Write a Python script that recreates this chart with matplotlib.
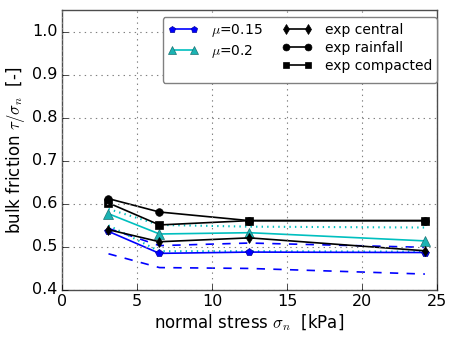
import matplotlib
matplotlib.use("Agg")
import matplotlib.pyplot as plt
from matplotlib.lines import Line2D

plt.style.use('classic')

# data
stress = [3.1, 6.5, 12.5, 24.2]
mu015 = [0.536, 0.485, 0.488, 0.487]
mu015_hi = [0.543, 0.503, 0.509, 0.499]
mu015_lo = [0.484, 0.452, 0.450, 0.437]
mu02 = [0.577, 0.530, 0.533, 0.514]
mu02_hi = [0.588, 0.551, 0.547, 0.545]
mu02_lo = [0.550, 0.490, 0.490, 0.489]
exp_central = [0.540, 0.512, 0.521, 0.491]
exp_rainfall = [0.612, 0.581, 0.561, 0.561]
exp_compacted = [0.602, 0.551, 0.561, 0.561]

fig = plt.figure(figsize=(4.57, 3.44), dpi=100, facecolor='white')
ax = fig.add_axes([0.1357, 0.157, 0.8203, 0.814])

cyan = (0.0, 0.75, 0.75)
ax.plot(stress, mu015_hi, '--', color='b', lw=1.2)
ax.plot(stress, mu015_lo, '--', color='b', lw=1.2)
ax.plot(stress, mu02_hi, ':', color=cyan, lw=1.5)
ax.plot(stress, mu02_lo, ':', color=cyan, lw=1.5)
l1, = ax.plot(stress, mu015, '-p', color='b', mec=(0, 0, 0.6), ms=5.5, lw=1.2)
l2, = ax.plot(stress, mu02, '-^', color=cyan, mfc=(0.1, 0.7, 0.7), mec=(0.1, 0.45, 0.45), ms=6.5, lw=1.2)
l3, = ax.plot(stress, exp_central, '-d', color='k', ms=5.5, lw=1.2)
l4, = ax.plot(stress, exp_rainfall, '-o', color='k', ms=5.5, lw=1.2)
l5, = ax.plot(stress, exp_compacted, '-s', color='k', ms=5.5, lw=1.2)

ax.set_xlim(0, 25)
ax.set_ylim(0.4, 1.05)
ax.set_xticks([0, 5, 10, 15, 20, 25])
ax.set_yticks([0.4, 0.5, 0.6, 0.7, 0.8, 0.9, 1.0])
ax.grid(True, color='0.5', linestyle=':', lw=0.8)
ax.tick_params(labelsize=11.5, direction='in', top=False, right=False, length=4, pad=3)
for s in ax.spines.values():
    s.set_color('0.3')
ax.set_xlabel(r'normal stress $\sigma_n$  [kPa]', fontsize=12, labelpad=2)
ax.set_ylabel(r'bulk friction $\tau/\sigma_n$  [-]', fontsize=12, labelpad=4)

blank = Line2D([], [], linestyle='none', marker='none')
leg = ax.legend([l1, l2, blank, l3, l4, l5],
                [r'$\mu$=0.15', r'$\mu$=0.2', '', 'exp central', 'exp rainfall', 'exp compacted'],
                ncol=2, loc='upper right', numpoints=2, fontsize=10, fancybox=True,
                framealpha=1, handlelength=2.2, handletextpad=0.9, columnspacing=1.4,
                borderpad=0.35, labelspacing=0.3, borderaxespad=0, markerscale=0.9,
                bbox_to_anchor=(1.0, 0.975))
leg.get_frame().set_edgecolor('0.5')

fig.savefig('out.png', dpi=100, facecolor='white')
